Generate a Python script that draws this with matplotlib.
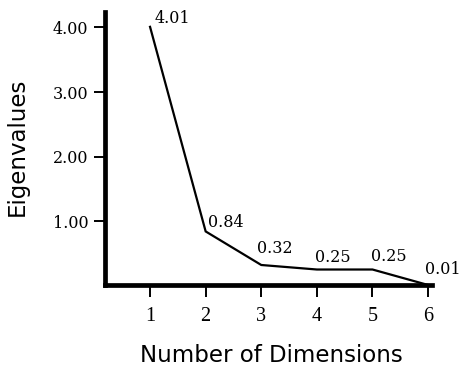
import matplotlib
matplotlib.use("Agg")
import matplotlib.pyplot as plt

dimensions = [1, 2, 3, 4, 5, 6]
eigenvalues = [4.01, 0.84, 0.32, 0.25, 0.25, 0.01]
value_labels = ["4.01", "0.84", "0.32", "0.25", "0.25", "0.01"]
y_ticks = [1, 2, 3, 4]
y_tick_labels = ["1.00", "2.00", "3.00", "4.00"]
x_ticks = [1, 2, 3, 4, 5, 6]
x_tick_labels = ["1", "2", "3", "4", "5", "6"]

# label offsets in pixels (dx, dy) relative to each point
label_offsets = [(5, 4), (2, 4), (-4, 12), (-2, 8), (-1, 9), (-3, 11)]

W, H = 464, 369
fig = plt.figure(figsize=(W / 100, H / 100), dpi=100)
L, R, B, T = 105, 432, 285, 12
ax = fig.add_axes([L / W, 1 - B / H, (R - L) / W, (B - T) / H])

ax.plot(dimensions, eigenvalues, color="black", lw=1.6, clip_on=False,
        solid_joinstyle="miter")

ax.set_xlim(0.19, 6.07)
ax.set_ylim(0.01, 4.24)

for s in ["top", "right"]:
    ax.spines[s].set_visible(False)
for s in ["left", "bottom"]:
    ax.spines[s].set_linewidth(3.4)
    ax.spines[s].set_capstyle("projecting")

ax.set_yticks(y_ticks)
ax.set_yticklabels(y_tick_labels, fontfamily="DejaVu Serif", fontsize=11.5)
ax.set_xticks(x_ticks)
ax.set_xticklabels(x_tick_labels, fontfamily="Liberation Serif", fontsize=14.5)
ax.tick_params(axis="y", direction="out", length=8, width=1.4, pad=4)
ax.tick_params(axis="x", direction="out", length=8.5, width=1.4, pad=7)

for x, y, lab, (dx, dy) in zip(dimensions, eigenvalues, value_labels, label_offsets):
    ax.annotate(lab, (x, y), xytext=(dx, dy), textcoords="offset pixels",
                ha="left", va="baseline", fontfamily="DejaVu Serif",
                fontsize=11.5, annotation_clip=False)

fig.text(17 / W, 1 - 147 / H, "Eigenvalues", rotation=90, ha="center",
         va="center", fontfamily="DejaVu Sans", fontsize=16.5)
fig.text(271 / W, 1 - 362 / H, "Number of Dimensions", ha="center",
         va="baseline", fontfamily="DejaVu Sans", fontsize=16.5)

fig.savefig("out.png", dpi=100)
